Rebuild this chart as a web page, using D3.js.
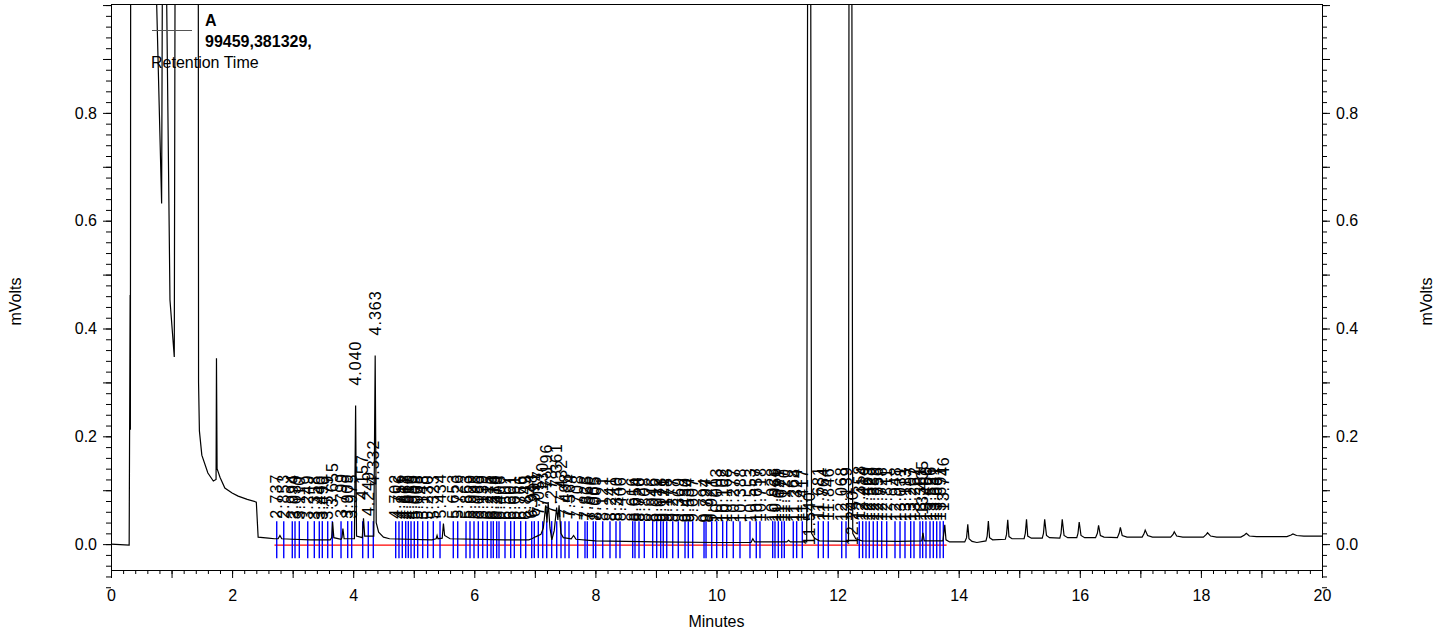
<!DOCTYPE html>
<html>
<head>
<meta charset="UTF-8" />
<title>Chromatogram</title>
<script src="https://cdn.jsdelivr.net/npm/d3@7"></script>
<style>
    body { margin: 0; background: #fff; }
    svg text { font-family: "Liberation Sans", Arial, sans-serif; fill: #000; }
</style>
</head>
<body>
<div id="chart"></div>
<script>
// axis ticks
var xLabelTicks = [0, 2, 4, 6, 8, 10, 12, 14, 16, 18, 20];
var yLabelTicks = [0.0, 0.2, 0.4, 0.6, 0.8];

// detector trace, [minutes, mVolts] (values > 1 are off scale)
var signal = [
    [0.00, 0.000], [0.15, -0.001], [0.30, -0.002], [0.316, 0.462], [0.320, 0.212], [0.326, 1.30],
    [0.74, 1.30], [0.754, 1.003], [0.836, 0.632], [0.847, 1.003], [0.86, 1.30],
    [0.91, 1.30], [0.92, 1.003], [0.974, 0.453], [1.045, 0.347], [1.057, 1.003], [1.07, 1.30],
    [1.42, 1.30], [1.442, 1.003], [1.446, 0.30], [1.46, 0.21], [1.50, 0.165], [1.60, 0.132],
    [1.69, 0.117], [1.735, 0.120], [1.742, 0.345], [1.752, 0.140], [1.80, 0.124], [1.88, 0.104],
    [2.00, 0.095], [2.10, 0.089], [2.25, 0.083], [2.40, 0.078], [2.43, 0.013], [2.60, 0.011],
    [2.70, 0.010], [2.76, 0.010], [2.79, 0.016], [2.82, 0.010], [3.00, 0.009], [3.30, 0.008],
    [3.62, 0.008], [3.645, 0.012], [3.66, 0.041], [3.68, 0.012], [3.80, 0.009], [3.815, 0.012],
    [3.83, 0.029], [3.85, 0.010], [4.02, 0.010], [4.040, 0.257], [4.055, 0.015], [4.15, 0.012],
    [4.17, 0.048], [4.19, 0.015], [4.34, 0.015], [4.363, 0.350], [4.38, 0.040], [4.42, 0.022],
    [4.50, 0.013], [4.60, 0.010], [5.30, 0.008], [5.37, 0.010], [5.385, 0.016], [5.40, 0.010],
    [5.47, 0.011], [5.49, 0.038], [5.51, 0.016], [5.60, 0.010], [6.50, 0.008], [6.90, 0.008],
    [6.95, 0.010], [7.02, 0.014], [7.10, 0.018], [7.14, 0.030], [7.18, 0.072], [7.20, 0.040],
    [7.22, 0.078], [7.25, 0.030], [7.28, 0.008], [7.32, 0.025], [7.36, 0.068], [7.38, 0.045],
    [7.40, 0.072], [7.43, 0.020], [7.47, 0.012], [7.60, 0.010], [7.64, 0.016], [7.68, 0.009],
    [8.00, 0.006], [9.00, 0.004], [10.00, 0.003], [10.57, 0.003], [10.60, 0.010], [10.63, 0.004],
    [11.16, 0.004], [11.19, 0.007], [11.22, 0.004], [11.49, 0.004], [11.508, 1.30], [11.553, 1.30],
    [11.57, 0.020], [11.62, 0.011], [11.70, 0.006], [12.18, 0.005], [12.19, 1.30], [12.232, 1.30],
    [12.25, 0.020], [12.30, 0.010], [12.40, 0.006], [13.00, 0.005], [13.39, 0.006], [13.41, 0.021],
    [13.43, 0.006], [13.74, 0.006], [13.77, 0.036], [13.79, 0.008], [13.85, 0.004],
    [14.10, 0.004], [14.13, 0.012], [14.15, 0.037], [14.17, 0.010], [14.22, 0.005], [14.30, 0.003],
    [14.45, 0.006], [14.47, 0.015], [14.49, 0.043], [14.51, 0.012], [14.56, 0.008],
    [14.77, 0.009], [14.79, 0.018], [14.81, 0.045], [14.83, 0.014], [14.88, 0.010],
    [15.08, 0.010], [15.10, 0.020], [15.12, 0.046], [15.14, 0.015], [15.20, 0.011],
    [15.38, 0.011], [15.40, 0.020], [15.42, 0.046], [15.45, 0.016], [15.50, 0.012],
    [15.67, 0.011], [15.69, 0.020], [15.71, 0.046], [15.74, 0.016], [15.80, 0.012],
    [15.95, 0.012], [15.97, 0.020], [15.99, 0.041], [16.02, 0.016], [16.08, 0.012],
    [16.26, 0.012], [16.29, 0.020], [16.31, 0.035], [16.34, 0.016], [16.40, 0.013],
    [16.62, 0.012], [16.65, 0.020], [16.67, 0.031], [16.70, 0.016], [16.78, 0.013],
    [17.03, 0.013], [17.06, 0.019], [17.08, 0.026], [17.12, 0.016], [17.20, 0.013],
    [17.50, 0.013], [17.54, 0.018], [17.56, 0.023], [17.60, 0.015], [17.70, 0.013],
    [18.04, 0.013], [18.09, 0.018], [18.11, 0.021], [18.16, 0.015], [18.26, 0.013],
    [18.66, 0.013], [18.72, 0.017], [18.75, 0.020], [18.80, 0.015], [18.92, 0.014],
    [19.42, 0.014], [19.49, 0.017], [19.52, 0.019], [19.58, 0.016], [19.70, 0.015], [20.00, 0.015]
];

// integrated peaks (blue event marks + retention time labels)
var peakTimes = [2.737, 2.853, 2.994, 3.039, 3.110, 3.249, 3.358, 3.440, 3.490, 3.579, 3.655,
    3.799, 3.909, 3.975, 4.157, 4.249, 4.332, 4.702, 4.756, 4.811, 4.867, 4.910, 4.955, 5.009,
    5.065, 5.148, 5.230, 5.323, 5.434, 5.653, 5.726, 5.863, 5.929, 5.995, 6.066, 6.139, 6.215,
    6.276, 6.314, 6.370, 6.408, 6.507, 6.601, 6.661, 6.766, 6.849, 6.948, 6.991, 7.057, 7.130,
    7.196, 7.278, 7.361, 7.432, 7.498, 7.564, 7.708, 7.828, 7.866, 7.965, 8.005, 8.121, 8.241,
    8.340, 8.406, 8.616, 8.654, 8.720, 8.808, 8.946, 9.012, 9.078, 9.121, 9.178, 9.277, 9.369,
    9.480, 9.534, 9.607, 9.794, 9.827, 9.921, 10.003, 10.102, 10.168, 10.277, 10.388, 10.553,
    10.657, 10.718, 10.928, 10.966, 11.021, 11.077, 11.120, 11.268, 11.324, 11.417, 11.681,
    11.764, 11.846, 12.068, 12.139, 12.358, 12.414, 12.469, 12.523, 12.589, 12.656, 12.728,
    12.811, 12.948, 13.031, 13.113, 13.207, 13.262, 13.361, 13.405, 13.460, 13.526, 13.581,
    13.637, 13.691, 13.746];
// large peaks, labelled only
var mainPeaks = [4.040, 4.363, 11.540, 12.240];
// integration baseline (red)
var baselineRange = [2.70, 13.80];
var legendLines = ["A", "99459,381329,", "Retention Time"];

var W = 1442, H = 634;
var x = d3.scaleLinear().domain([0, 20]).range([111, 1322]);
var y = d3.scaleLinear().domain([-0.048, 1.002]).range([570, 4]);

var svg = d3.select("#chart").append("svg").attr("width", W).attr("height", H);

svg.append("clipPath").attr("id", "plotClip")
    .append("rect").attr("x", x(0)).attr("y", y(1.002))
    .attr("width", x(20) - x(0)).attr("height", y(-0.048) - y(1.002));

// axes
var minorY = d3.range(-4, 51).map(function (i) { return i * 0.02; });
var medY = d3.range(0, 11).map(function (i) { return i * 0.1; });
var minorX = d3.range(0, 101).map(function (i) { return i * 0.2; });
var medX = d3.range(0, 21);
var fmtY = d3.format(".1f");

function noDomain(g) { g.select(".domain").remove(); g.selectAll("text").style("font-size", "16px"); }
function yLab(d) { return yLabelTicks.some(function (v) { return Math.abs(v - d) < 1e-6; }) ? fmtY(d) : ""; }

svg.append("g").attr("transform", "translate(" + x(0) + ",0)")
    .call(d3.axisLeft(y).tickValues(minorY).tickSize(5).tickFormat("")).call(noDomain);
svg.append("g").attr("transform", "translate(" + x(0) + ",0)")
    .call(d3.axisLeft(y).tickValues(medY).tickSize(8).tickPadding(6).tickFormat(yLab))
    .call(noDomain);
svg.append("g").attr("transform", "translate(" + x(20) + ",0)")
    .call(d3.axisRight(y).tickValues(minorY).tickSize(5).tickFormat("")).call(noDomain);
svg.append("g").attr("transform", "translate(" + x(20) + ",0)")
    .call(d3.axisRight(y).tickValues(medY).tickSize(8).tickPadding(6).tickFormat(yLab))
    .call(noDomain);
svg.append("g").attr("transform", "translate(0," + y(-0.048) + ")")
    .call(d3.axisBottom(x).tickValues(minorX).tickSize(4).tickFormat("")).call(noDomain);
svg.append("g").attr("transform", "translate(0," + y(-0.048) + ")")
    .call(d3.axisBottom(x).tickValues(medX).tickSize(8).tickPadding(12)
        .tickFormat(function (d) { return xLabelTicks.indexOf(d) >= 0 ? d : ""; }))
    .call(noDomain);

svg.append("rect").attr("x", x(0) + 0.5).attr("y", y(1.002) + 0.5)
    .attr("width", x(20) - x(0)).attr("height", y(-0.048) - y(1.002))
    .attr("fill", "none").attr("stroke", "#000").attr("stroke-width", 1);

svg.append("text").attr("x", (x(0) + x(20)) / 2).attr("y", 627)
    .attr("text-anchor", "middle").style("font-size", "16px").text("Minutes");
svg.append("text").attr("transform", "translate(21," + y(0.45) + ") rotate(-90)")
    .attr("text-anchor", "middle").style("font-size", "16px").text("mVolts");
svg.append("text").attr("transform", "translate(1432," + y(0.45) + ") rotate(-90)")
    .attr("text-anchor", "middle").style("font-size", "16px").text("mVolts");

var plot = svg.append("g").attr("clip-path", "url(#plotClip)");

// red integration baseline
plot.append("line")
    .attr("x1", x(baselineRange[0])).attr("x2", x(baselineRange[1]))
    .attr("y1", y(-0.002)).attr("y2", y(-0.002))
    .attr("stroke", "#ff0000").attr("stroke-width", 1.2);

// blue peak event marks
plot.selectAll(".mark").data(peakTimes).enter().append("line")
    .attr("class", "mark")
    .attr("x1", function (d) { return x(d); }).attr("x2", function (d) { return x(d); })
    .attr("y1", y(0) - 23).attr("y2", y(0) + 14)
    .attr("stroke", "#0000ff").attr("stroke-width", 1.4);

// trace
var line = d3.line().x(function (d) { return x(d[0]); }).y(function (d) { return y(d[1]); });
plot.append("path").datum(signal).attr("d", line)
    .attr("fill", "none").attr("stroke", "#000").attr("stroke-width", 1.2);

// peak labels, placed above the trace at the retention time
var bis = d3.bisector(function (d) { return d[0]; }).left;
function valueAt(t) {
    var i = Math.max(1, Math.min(signal.length - 1, bis(signal, t)));
    var a = signal[i - 1], b = signal[i];
    return a[1] + (b[1] - a[1]) * (t - a[0]) / (b[0] - a[0]);
}
function apex(t) {
    return Math.max(valueAt(t - 0.012), valueAt(t), valueAt(t + 0.012));
}
var fmtT = d3.format(".3f");
var labels = peakTimes.concat(mainPeaks).sort(d3.ascending);
svg.selectAll(".plabel").data(labels).enter().append("text")
    .attr("class", "plabel")
    .attr("transform", function (d) {
        var v = apex(d);
        var yb = v > 1 ? y(0) + 1 : y(v) - 20;
        return "translate(" + x(d) + "," + yb + ") rotate(-90)";
    })
    .attr("dy", "0.35em")
    .style("font-size", "16px").style("letter-spacing", "1px")
    .text(function (d) { return fmtT(d); });

// legend
svg.append("line").attr("x1", 152).attr("x2", 192).attr("y1", 30.5).attr("y2", 30.5)
    .attr("stroke", "#555").attr("stroke-width", 1);
svg.append("text").attr("x", 205).attr("y", 26).style("font-size", "16px").style("font-weight", "bold").text(legendLines[0]);
svg.append("text").attr("x", 205).attr("y", 47).style("font-size", "16px").style("font-weight", "bold").text(legendLines[1]);
svg.append("text").attr("x", 151).attr("y", 68).style("font-size", "16px").text(legendLines[2]);
</script>
</body>
</html>
